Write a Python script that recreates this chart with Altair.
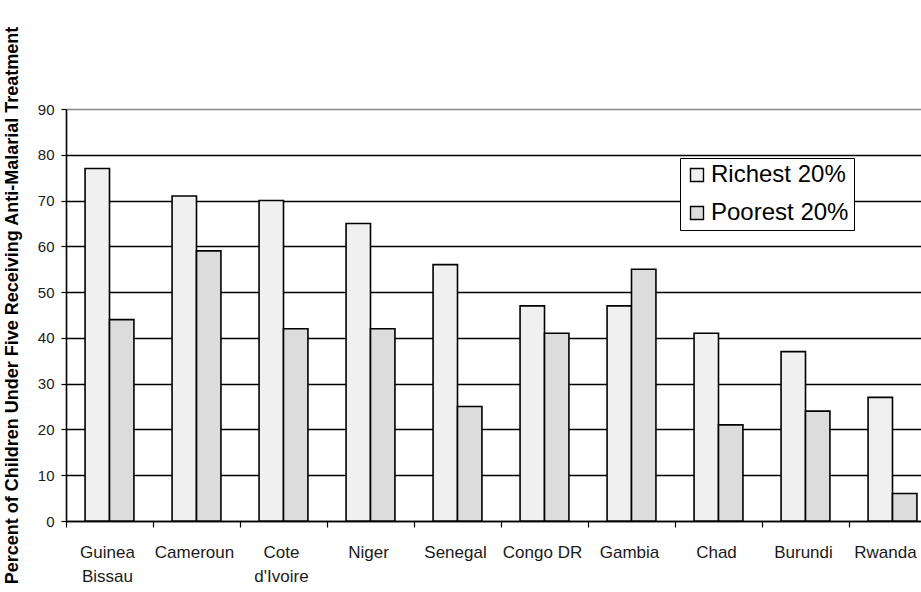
import altair as alt
import pandas as pd

countries = ["Guinea Bissau", "Cameroun", "Cote d'Ivoire", "Niger", "Senegal",
             "Congo DR", "Gambia", "Chad", "Burundi", "Rwanda"]
labels = [["Guinea", "Bissau"], ["Cameroun"], ["Cote", "d'Ivoire"], ["Niger"], ["Senegal"],
          ["Congo DR"], ["Gambia"], ["Chad"], ["Burundi"], ["Rwanda"]]
richest = [77, 71, 70, 65, 56, 47, 47, 41, 37, 27]
poorest = [44, 59, 42, 42, 25, 41, 55, 21, 24, 6]
series = ["Richest 20%", "Poorest 20%"]
colors = ["#f0f0f0", "#dcdcdc"]
y_ticks = [0, 10, 20, 30, 40, 50, 60, 70, 80, 90]

rows = []
for c, r, p in zip(countries, richest, poorest):
    rows.append({"country": c, "series": series[0], "value": r})
    rows.append({"country": c, "series": series[1], "value": p})
df = pd.DataFrame(rows)
lab_df = pd.DataFrame({"country": countries, "label": labels})

FONT = "Liberation Sans"

xscale = alt.Scale(domain=countries, range=[0, 870], paddingInner=0, paddingOuter=0)

bars = alt.Chart(df).mark_bar(stroke="black", strokeWidth=1.6).encode(
    x=alt.X("country:N", scale=xscale, sort=countries,
            axis=alt.Axis(title=None, labels=False, bandPosition=0, ticks=True,
                          tickSize=6, tickColor="black", tickWidth=1.2,
                          domainColor="black", domainWidth=1.6, grid=False)),
    xOffset=alt.XOffset("series:N", sort=series,
                        scale=alt.Scale(domain=series, paddingOuter=0.78, paddingInner=0)),
    y=alt.Y("value:Q",
            scale=alt.Scale(domain=[0, 90], nice=False),
            axis=alt.Axis(values=y_ticks, title="Percent of Children Under Five Receiving Anti-Malarial Treatment",
                          titleFont=FONT, titleFontSize=18, titleFontWeight="bold",
                          titleColor="black", titleAngle=270, titleAlign="center",
                          titleBaseline="top", titleX=-63, titleY=196,
                          labelFont=FONT, labelFontSize=15, labelColor="#1a1a1a", labelPadding=7,
                          tickSize=5, tickColor="black", tickWidth=1.2,
                          domainColor="black", domainWidth=1.6,
                          grid=True,
                          gridColor=alt.condition("datum.value == 90", alt.value("#888888"), alt.value("black")),
                          gridWidth=1.4)),
    color=alt.Color("series:N", sort=series,
                    scale=alt.Scale(domain=series, range=colors),
                    legend=alt.Legend(title=None, orient="none", legendX=614, legendY=49,
                                      fillColor="white", strokeColor="black",
                                      padding=5, labelFont=FONT, labelFontSize=24,
                                      labelColor="black", symbolType="square", symbolSize=169,
                                      symbolStrokeColor="black", symbolStrokeWidth=1.4,
                                      rowPadding=14, labelOffset=2)),
)

text_style = dict(font=FONT, fontSize=17, color="#1a1a1a",
                  baseline="top", align="center", lineHeight=24)

texts_main = alt.Chart(lab_df).transform_filter(
    alt.datum.country != "Rwanda"
).mark_text(dx=-2, **text_style).encode(
    x=alt.X("country:N", scale=xscale, sort=countries),
    y=alt.value(436),
    text="label",
)

texts_last = alt.Chart(lab_df).transform_filter(
    alt.datum.country == "Rwanda"
).mark_text(dx=-7, **text_style).encode(
    x=alt.X("country:N", scale=xscale, sort=countries),
    y=alt.value(436),
    text="label",
)

chart = alt.layer(bars, texts_main, texts_last).properties(
    width=855, height=412,
    autosize=alt.AutoSizeParams(type="none"),
    padding={"left": 66, "top": 109, "right": 0, "bottom": 71},
).configure_view(stroke=None).configure(background="white")

chart.save("out.html", embed_options={"renderer": "svg", "actions": False})
